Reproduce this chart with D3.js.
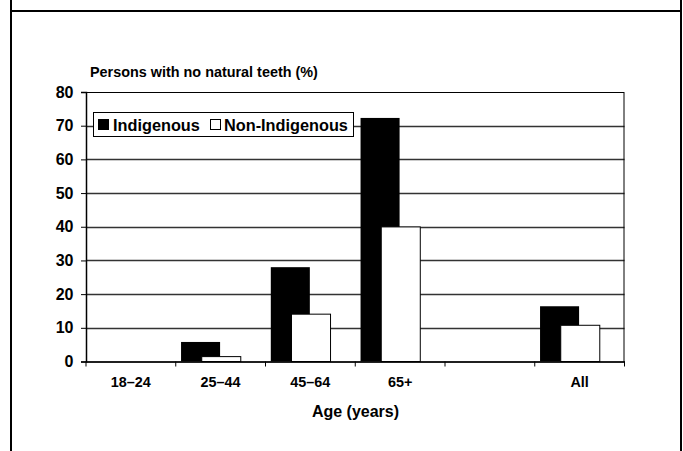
<!DOCTYPE html>
<html>
<head>
<meta charset="utf-8">
<script src="https://cdn.jsdelivr.net/npm/d3@7"></script>
<style>
  body { margin: 0; background: #fff; }
  text { font-family: "Liberation Sans", Arial, sans-serif; font-weight: bold; fill: #000; }
</style>
</head>
<body>
<div id="chart"></div>
<script>
// Data
var categories = ['18\u201324', '25\u201344', '45\u201364', '65+', '', 'All'];
var indigenous = [null, 5.8, 28, 72.3, null, 16.4];
var nonIndigenous = [null, 1.6, 14.2, 40.1, null, 10.9];
var yTicks = [0, 10, 20, 30, 40, 50, 60, 70, 80];

var width = 683;
var height = 451;

var svg = d3.select('#chart')
    .append('svg')
    .attr('width', width)
    .attr('height', height);

// outer frame
svg.append('line').attr('x1', 11).attr('x2', 11).attr('y1', 0).attr('y2', height)
    .attr('stroke', '#000').attr('stroke-width', 2);
svg.append('line').attr('x1', 681).attr('x2', 681).attr('y1', 0).attr('y2', height)
    .attr('stroke', '#000').attr('stroke-width', 2);
svg.append('line').attr('x1', 11).attr('x2', 681).attr('y1', 11).attr('y2', 11)
    .attr('stroke', '#000').attr('stroke-width', 2);

var plot = { left: 86, right: 624.5, top: 92, bottom: 361.5 };

var x = d3.scaleBand()
    .domain(d3.range(categories.length))
    .range([plot.left, plot.right]);

var y = d3.scaleLinear()
    .domain([0, 80])
    .range([plot.bottom, plot.top]);

var bw = x.bandwidth();
var barW = bw * 0.435;
var barOff = bw * 0.059;
var barShift = bw * 0.225;

// gridlines
svg.append('g')
    .selectAll('line')
    .data(yTicks.filter(function(d) { return d > 0 && d < 80; }))
    .enter()
    .append('line')
    .attr('x1', plot.left)
    .attr('x2', plot.right)
    .attr('y1', function(d) { return Math.round(y(d)) + 0.5; })
    .attr('y2', function(d) { return Math.round(y(d)) + 0.5; })
    .attr('stroke', '#333')
    .attr('stroke-width', 1.3);

// plot area border
svg.append('rect')
    .attr('x', plot.left + 0.5)
    .attr('y', plot.top + 0.5)
    .attr('width', plot.right - plot.left - 1)
    .attr('height', plot.bottom - plot.top)
    .attr('fill', 'none')
    .attr('stroke', '#000')
    .attr('stroke-width', 1);

// bars
svg.append('g')
    .selectAll('rect')
    .data(indigenous.map(function(v, i) { return { v: v, i: i }; })
        .filter(function(d) { return d.v != null; }))
    .enter()
    .append('rect')
    .attr('x', function(d) { return x(d.i) + barOff; })
    .attr('y', function(d) { return y(d.v); })
    .attr('width', barW)
    .attr('height', function(d) { return y(0) - y(d.v); })
    .attr('fill', '#000');

svg.append('g')
    .selectAll('rect')
    .data(nonIndigenous.map(function(v, i) { return { v: v, i: i }; })
        .filter(function(d) { return d.v != null; }))
    .enter()
    .append('rect')
    .attr('x', function(d) { return x(d.i) + barOff + barShift + 0.5; })
    .attr('y', function(d) { return y(d.v) + 0.5; })
    .attr('width', barW)
    .attr('height', function(d) { return y(0) - y(d.v) - 0.5; })
    .attr('fill', '#fff')
    .attr('stroke', '#000')
    .attr('stroke-width', 1);

// y axis
var yAxis = svg.append('g')
    .attr('transform', 'translate(' + plot.left + ',0)')
    .call(d3.axisLeft(y).tickValues(yTicks).tickSize(5).tickPadding(7.5));
yAxis.select('.domain').attr('stroke', '#000').attr('stroke-width', 1.5);
yAxis.selectAll('.tick line').attr('stroke', '#000');
yAxis.selectAll('.tick text')
    .style('font-family', '"Liberation Sans", Arial, sans-serif')
    .style('font-weight', 'bold')
    .style('font-size', '16px')
    .attr('fill', '#000');

// x axis
var xAxis = svg.append('g')
    .attr('transform', 'translate(0,' + plot.bottom + ')')
    .call(d3.axisBottom(x).tickFormat(function(i) { return categories[i]; }).tickSize(0).tickPadding(15.5));
xAxis.select('.domain').attr('stroke', '#000').attr('stroke-width', 1.5);
xAxis.selectAll('.tick text')
    .style('font-family', '"Liberation Sans", Arial, sans-serif')
    .style('font-weight', 'bold')
    .style('font-size', '14.4px')
    .attr('fill', '#000');

// x ticks at band boundaries
svg.append('g')
    .selectAll('line')
    .data(d3.range(categories.length + 1))
    .enter()
    .append('line')
    .attr('x1', function(i) { return plot.left + i * bw; })
    .attr('x2', function(i) { return plot.left + i * bw; })
    .attr('y1', plot.bottom)
    .attr('y2', plot.bottom + 5)
    .attr('stroke', '#000');

// axis titles
svg.append('text')
    .attr('x', 90)
    .attr('y', 77)
    .style('font-size', '14.4px')
    .text('Persons with no natural teeth (%)');

svg.append('text')
    .attr('x', 355.5)
    .attr('y', 417)
    .attr('text-anchor', 'middle')
    .style('font-size', '16px')
    .text('Age (years)');

// legend
var legend = svg.append('g').attr('transform', 'translate(93,112)');
legend.append('rect')
    .attr('x', 0.5).attr('y', 0.5)
    .attr('width', 260).attr('height', 24)
    .attr('fill', '#fff')
    .attr('stroke', '#000');
legend.append('rect')
    .attr('x', 5.5).attr('y', 7.5).attr('width', 10).attr('height', 10)
    .attr('fill', '#000').attr('stroke', '#000');
legend.append('text')
    .attr('x', 20).attr('y', 18.5)
    .style('font-size', '16.3px')
    .text('Indigenous');
legend.append('rect')
    .attr('x', 117.5).attr('y', 7.5).attr('width', 10).attr('height', 10)
    .attr('fill', '#fff').attr('stroke', '#000');
legend.append('text')
    .attr('x', 131).attr('y', 18.5)
    .style('font-size', '16.3px')
    .text('Non-Indigenous');
</script>
</body>
</html>
